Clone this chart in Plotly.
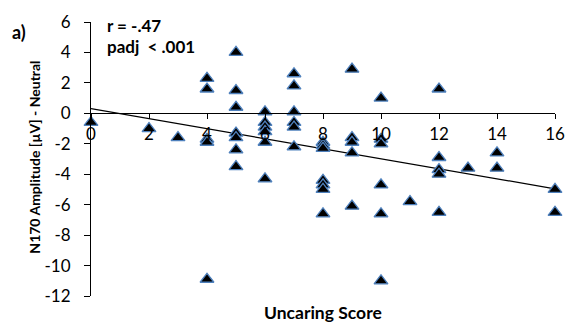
import numpy as np
import plotly.graph_objects as go

# Uncaring score (x) and N170 amplitude difference vs neutral (y), one entry per participant
uncaring = [0, 2, 3,
            4, 4, 4, 4, 4,
            5, 5, 5, 5, 5, 5, 5,
            6, 6, 6, 6, 6, 6,
            7, 7, 7, 7, 7, 7,
            8, 8, 8, 8, 8, 8, 8,
            9, 9, 9, 9, 9,
            10, 10, 10, 10, 10, 10,
            11,
            12, 12, 12, 12, 12,
            13,
            14, 14,
            16, 16]
n170_diff = [-0.6, -1.0, -1.6,
             2.3, 1.6, -1.7, -1.9, -10.9,
             4.0, 1.5, 0.4, -1.3, -1.6, -2.4, -3.5,
             0.1, -0.6, -0.9, -1.2, -1.9, -4.3,
             2.6, 1.8, 0.1, -0.6, -0.9, -2.2,
             -1.9, -2.1, -2.3, -4.4, -4.7, -5.0, -6.6,
             2.9, -1.6, -1.9, -2.6, -6.1,
             1.0, -1.7, -2.0, -4.7, -6.6, -11.0,
             -5.8,
             1.6, -2.9, -3.7, -4.0, -6.5,
             -3.6,
             -2.6, -3.6,
             -5.0, -6.5]

x_ticks = [0, 2, 4, 6, 8, 10, 12, 14, 16]
y_ticks = [6, 4, 2, 0, -2, -4, -6, -8, -10, -12]
stats_lines = ["r = -.47", "padj  < .001"]

X_RANGE = [0, 16]
Y_RANGE = [-12, 6]

# least-squares trend line over the score range
slope, intercept = np.polyfit(uncaring, n170_diff, 1)
fit_x = np.array(X_RANGE, dtype=float)
fit_y = intercept + slope * fit_x

FONT = "Lato, 'Open Sans', sans-serif"

fig = go.Figure()
fig.add_trace(go.Scatter(
    x=fit_x, y=fit_y, mode="lines",
    line=dict(color="black", width=1.2),
    hoverinfo="skip", showlegend=False, cliponaxis=False,
))
fig.add_trace(go.Scatter(
    x=uncaring, y=n170_diff, mode="markers",
    marker=dict(symbol="triangle-up", size=12, color="black",
                line=dict(color="#4f81bd", width=1.3)),
    showlegend=False, cliponaxis=False,
))

zero_frac = (0 - Y_RANGE[0]) / (Y_RANGE[1] - Y_RANGE[0])

fig.update_layout(
    width=576, height=329,
    margin=dict(l=91, r=12, t=11, b=33),
    paper_bgcolor="white", plot_bgcolor="white",
    font=dict(family=FONT, color="black", size=17),
    xaxis=dict(
        range=X_RANGE, tickvals=x_ticks, ticktext=[str(v) for v in x_ticks],
        showgrid=False, zeroline=False, showline=True, linecolor="black", linewidth=1,
        ticks="outside", ticklen=5, tickcolor="black", tickwidth=1,
        anchor="free", position=zero_frac, ticklabeloverflow="allow",
        tickfont=dict(family=FONT, size=17, color="black"),
    ),
    yaxis=dict(
        range=Y_RANGE, tickvals=y_ticks, ticktext=[str(v) for v in y_ticks],
        showgrid=False, zeroline=False, showline=True, linecolor="black", linewidth=1,
        ticks="outside", ticklen=6, tickcolor="black", tickwidth=1,
        ticklabelstandoff=10, ticklabeloverflow="allow",
        tickfont=dict(family=FONT, size=17, color="black"),
    ),
    annotations=[
        dict(text="<b>N170 Amplitude [µV] - Neutral</b>", textangle=-90,
             xref="paper", yref="paper", x=(33 - 91) / 473, y=(296 - 152) / 285,
             xanchor="center", yanchor="middle", showarrow=False,
             font=dict(family=FONT, size=14)),
        dict(text="<b>Uncaring Score</b>",
             xref="paper", yref="paper", x=0.5, y=-(313 - 296) / 285,
             xanchor="center", yanchor="middle", showarrow=False,
             font=dict(family=FONT, size=17.5)),
        dict(text="<b>a)</b>",
             xref="paper", yref="paper", x=(8 - 91) / 473, y=(296 - 21) / 285,
             xanchor="left", yanchor="middle", showarrow=False,
             font=dict(family=FONT, size=18)),
        dict(text="<b>" + stats_lines[0] + "</b>",
             xref="paper", yref="paper", x=(105 - 91) / 473, y=(296 - 15) / 285,
             xanchor="left", yanchor="middle", showarrow=False,
             font=dict(family=FONT, size=17)),
        dict(text="<b>" + stats_lines[1] + "</b>",
             xref="paper", yref="paper", x=(105 - 91) / 473, y=(296 - 37) / 285,
             xanchor="left", yanchor="middle", showarrow=False,
             font=dict(family=FONT, size=17)),
    ],
)

fig.write_html("out.html")
